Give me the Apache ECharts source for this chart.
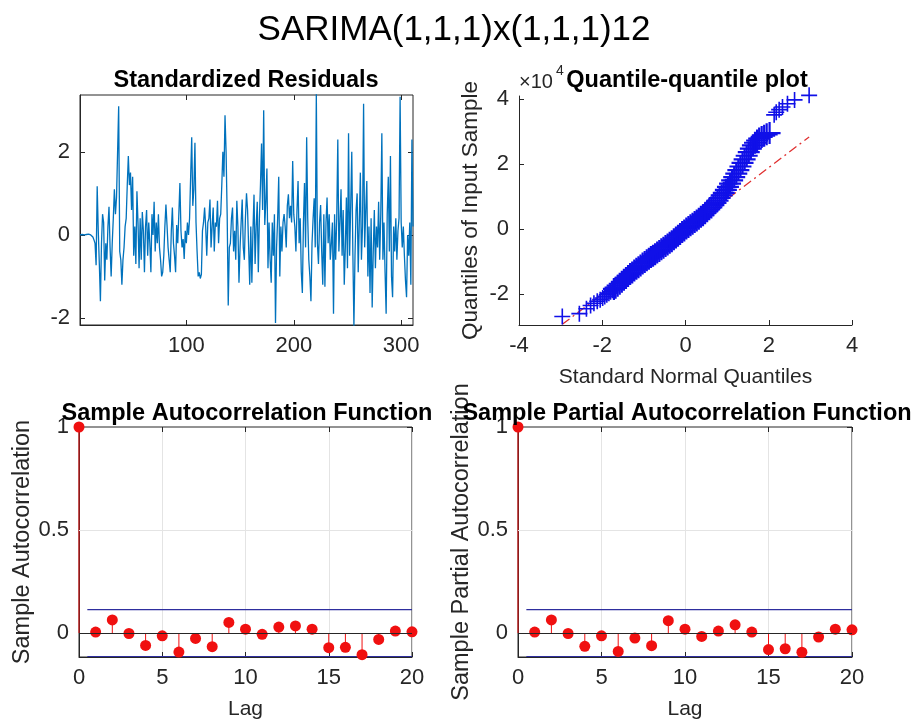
<!DOCTYPE html>
<html>
<head>
<meta charset="utf-8">
<script src="https://cdn.jsdelivr.net/npm/echarts@6/dist/echarts.min.js"></script>
<style>
  html, body { margin: 0; padding: 0; background: #fff; }
  #chart { width: 916px; height: 725px; }
</style>
</head>
<body>
<div id="chart"></div>
<script>
// standardized residuals, t = 1..311
const resid = [
  0.0, 0.02, 0.01, 0.03, 0.0, 0.02, 0.01, -0.01, 0.02, 0.01,
  0.0, 0.02, -0.05, -0.12, -0.2, -0.73, 1.17, 0.1, -0.7, -1.6,
  -0.2, 0.5, 0.3, -1.1, -0.2, -0.6, 0.2, 0.68, -0.3, -1.0,
  -0.2, 0.4, 1.1, 0.5, 0.9, 2.0, 3.1, -0.4, -0.6, -1.2,
  -0.6, -0.3, 0.2, 0.4, 1.2, 1.9, 1.2, 1.5, 0.6, 1.4,
  -0.5, 0.2, -0.7, 1.05, 0.3, -0.8, 0.4, -0.6, 0.55, 0.1,
  -0.9, 0.2, 0.6, -0.5, 0.3, -0.2, -0.9, 0.5, 0.0, 0.8,
  -0.4, 0.3, -0.2, 0.5, -0.3, -0.6, -1.0, -0.9, -0.5, 0.2,
  0.73, 0.24, -0.3, -0.6, -0.9, 0.1, 0.66, -0.2, -0.5, -0.9,
  0.24, -0.2, 0.5, 1.25, 0.1, -0.3, -0.1, -0.58, 0.1, -0.2,
  0.3, 0.0, 0.4, 1.4, 2.35, 0.7, 1.1, 2.22, 0.3, -0.4,
  -1.0, -0.9, -1.05, -0.95, 0.1, 0.3, 0.66, 0.2, -0.5, 0.3,
  0.4, 0.85, -0.3, 0.2, 0.66, -0.4, 0.3, 0.2, 0.82, -0.2,
  0.4, 0.5, 1.2, 2.0, 1.4, 2.88, 2.0, 0.5, -1.7, -0.3,
  -0.2, 0.4, 0.66, -0.4, 0.1, -0.6, 0.82, 0.2, -1.15, -0.3,
  0.3, 0.85, -0.3, -0.6, 0.4, 1.0, 0.6, -0.3, -1.2, 0.2,
  -1.15, 0.1, 0.97, -0.7, 0.2, 0.8, -0.9, 0.4, 1.2, 2.2,
  0.6, 3.0, 0.24, 0.8, 1.6, -0.8, 0.3, -0.6, -1.15, 0.3,
  -0.5, 0.5, -2.12, -0.3, 0.4, 1.4, -1.0, 0.2, -0.4, 0.3,
  0.5, 0.2, -0.3, 0.7, 0.98, 0.4, 0.7, 0.3, 1.78, 0.5,
  0.2, -0.4, 0.6, 1.3, -0.2, 0.4, -0.9, -1.4, 0.3, 1.25,
  -0.3, 2.35, 0.4, -0.6, -1.0, -1.6, -0.2, 0.4, 0.88, -0.3,
  3.4, -0.2, -0.7, 0.3, 0.72, -0.4, -1.2, 0.5, -1.25, 0.3,
  0.9, -0.2, 0.5, -0.6, -0.2, 0.3, -1.9, 0.5, -0.6, 0.4,
  2.3, -0.4, 0.3, 1.1, -0.5, 0.6, -1.2, -0.3, 0.9, -0.8,
  2.45, -0.5, 0.7, 2.0, -0.4, -2.2, -0.5, 0.6, 1.0, -0.9,
  0.3, 1.5, -0.6, 0.2, 3.16, -0.3, 0.6, 1.3, -1.0, 0.2,
  -1.4, 0.4, -1.75, -0.4, 0.6, -0.8, 0.2, -0.3, 0.8, -0.6,
  0.5, 2.45, -0.6, 0.3, -0.9, -1.9, 0.5, 1.4, -0.4, 1.9,
  -1.0, -1.5, 0.2, -0.4, 0.4, -0.6, 0.1, 0.4, 3.33, 0.3,
  -0.3, 0.2, -0.5, -1.1, -1.5, 0.0, -0.5, 0.3, -1.2, 2.3, 0.2
];

// quantile-quantile plot (x: normal quantiles, y: sample quantiles in 1e4)
const qqTheory = [
  -2.96, -2.55, -2.38, -2.28, -2.2, -2.12, -2.05, -1.99, -1.94, -1.89, -1.84, -1.8, -1.76, -1.72,
  -1.68, -1.63, -1.58, -1.53, -1.48, -1.43, -1.38, -1.33, -1.28, -1.23, -1.18, -1.13, -1.08, -1.03,
  -0.98, -0.93, -0.88, -0.83, -0.78, -0.73, -0.68, -0.63, -0.58, -0.53, -0.48, -0.43, -0.38, -0.33,
  -0.28, -0.23, -0.18, -0.13, -0.08, -0.03, 0.02, 0.07, 0.12, 0.17, 0.22, 0.27, 0.32, 0.37,
  0.42, 0.47, 0.52, 0.57, 0.62, 0.67, 0.72, 0.77, 0.82, 0.87, 0.92, 0.97, 1.02, 1.07,
  1.12, 1.17, 1.22, 1.27, 1.32, 1.37, 1.42, 1.47, 1.52, 1.57, 1.62, 1.67, 1.72, 1.77,
  1.83, 1.89, 1.95, 2.02, 2.13, 2.18, 2.25, 2.33, 2.45, 2.62, 2.97
];
const qqSample = [
  -2.69, -2.6, -2.45, -2.35, -2.28, -2.22, -2.17, -2.12, -2.07, -2.02, -1.97, -1.93, -1.88, -1.84,
  -1.8, -1.74, -1.68, -1.62, -1.56, -1.5, -1.44, -1.38, -1.33, -1.27, -1.22, -1.17, -1.12, -1.06,
  -1.01, -0.96, -0.91, -0.86, -0.82, -0.77, -0.72, -0.67, -0.62, -0.57, -0.52, -0.47, -0.42, -0.37,
  -0.31, -0.26, -0.2, -0.15, -0.09, -0.04, 0.02, 0.07, 0.12, 0.17, 0.22, 0.27, 0.32, 0.38,
  0.43, 0.49, 0.55, 0.61, 0.67, 0.74, 0.81, 0.88, 0.96, 1.04, 1.12, 1.21, 1.3, 1.4,
  1.5, 1.6, 1.71, 1.82, 1.93, 2.04, 2.15, 2.26, 2.37, 2.48, 2.58, 2.66, 2.73, 2.79,
  2.84, 2.88, 2.92, 2.96, 3.52, 3.6, 3.68, 3.76, 3.86, 3.98, 4.12
];
const qqLineX = [-2.96, 2.97];
const qqLineY = [-2.93, 2.84];

// sample ACF / PACF
const lags = [0, 1, 2, 3, 4, 5, 6, 7, 8, 9, 10, 11, 12, 13, 14, 15, 16, 17, 18, 19, 20];
const acf = [1, 0.005, 0.064, -0.002, -0.06, -0.013, -0.092, -0.026, -0.066, 0.052, 0.019,
  -0.006, 0.029, 0.035, 0.019, -0.071, -0.069, -0.105, -0.031, 0.01, 0.006];
const pacf = [1, 0.005, 0.064, -0.002, -0.064, -0.013, -0.089, -0.024, -0.061, 0.06, 0.019,
  -0.016, 0.01, 0.04, 0.005, -0.08, -0.076, -0.093, -0.019, 0.019, 0.016];
const confBound = 0.1136;

const resXTicks = [100, 200, 300];
const resYTicks = [-2, 0, 2];
const qqYTicks = [-2, 0, 2, 4];
const acfYTicks = [0, 0.5, 1];

const AXIS = '#262626';
const RED = '#f01010';
const FONT = '"Liberation Sans", Arial, sans-serif';
const PLUS = 'path://M0,7.2h16v1.6h-16zM7.2,0h1.6v16h-1.6z';

function axis(gridIndex, min, max, o = {}) {
  return {
    type: 'value', gridIndex, min, max,
    interval: o.interval,
    position: o.position,
    name: o.name,
    nameLocation: 'middle',
    nameGap: o.nameGap,
    nameTextStyle: { color: AXIS, fontSize: o.nameSize || 21, fontFamily: FONT },
    axisLine: { show: o.line !== false, onZero: false, lineStyle: { color: AXIS, width: 1 } },
    axisTick: { show: true, inside: true, length: 5, customValues: o.ticks, lineStyle: { color: AXIS } },
    axisLabel: {
      show: o.labels !== false, customValues: o.ticks,
      color: AXIS, fontSize: 22, fontFamily: FONT, margin: 10
    },
    splitLine: { show: !!o.grid, lineStyle: { color: '#e4e4e4', width: 1 } }
  };
}

// title component adds 5px padding, so x is the wanted centre minus 5
function subTitle(text, x, y) {
  return {
    text, left: x - 5, top: y, textAlign: 'center',
    textStyle: { color: '#000', fontSize: 23.5, fontWeight: 'bold', fontFamily: FONT }
  };
}

// stems + markers + bounds for ACF-type panels
function corrSeries(xi, yi, vals) {
  return [
    {
      type: 'line', xAxisIndex: xi, yAxisIndex: yi, z: 1,
      data: [[0.5, confBound], [20, confBound]],
      symbol: 'none', silent: true,
      lineStyle: { color: '#2e2e9e', width: 1.2 },
      markLine: {
        silent: true, symbol: 'none', label: { show: false },
        data: [
          { yAxis: 0.5, lineStyle: { color: '#e4e4e4', width: 1, type: 'solid' } },
          { yAxis: 0, lineStyle: { color: '#262626', width: 1, type: 'solid' } }
        ]
      }
    },
    {
      type: 'line', xAxisIndex: xi, yAxisIndex: yi, z: 1,
      data: [[0.5, -confBound], [20, -confBound]],
      symbol: 'none', silent: true,
      lineStyle: { color: '#2e2e9e', width: 1.2 }
    },
    {
      type: 'custom', xAxisIndex: xi, yAxisIndex: yi, z: 3,
      data: lags.map((l, i) => [l, vals[i]]),
      renderItem: (params, api) => {
        const p0 = api.coord([api.value(0), 0]);
        const p1 = api.coord([api.value(0), api.value(1)]);
        return {
          type: 'line',
          shape: { x1: p0[0], y1: p0[1], x2: p1[0], y2: p1[1] },
          style: { stroke: RED, lineWidth: 1 }
        };
      }
    },
    {
      type: 'scatter', xAxisIndex: xi, yAxisIndex: yi, z: 4,
      data: lags.map((l, i) => [l, vals[i]]),
      symbol: 'circle', symbolSize: 11,
      itemStyle: { color: RED, opacity: 1 }
    }
  ];
}

const chart = echarts.init(document.getElementById('chart'), null, { renderer: 'canvas' });

const option = {
  animation: false,
  backgroundColor: '#fff',
  title: [
    {
      text: 'SARIMA(1,1,1)x(1,1,1)12', left: 449, top: 8, textAlign: 'center',
      textStyle: { color: '#000', fontSize: 35, fontWeight: 'normal', fontFamily: FONT }
    },
    subTitle('Standardized Residuals', 246, 64),
    subTitle('Quantile-quantile plot', 687, 64),
    subTitle('Sample Autocorrelation Function', 247, 397),
    subTitle('Sample Partial Autocorrelation Function', 687, 397)
  ],
  graphic: [
    {
      type: 'text', left: 519, top: 72,
      style: { text: '\u00d710', fill: AXIS, font: '20px ' + FONT }
    },
    {
      type: 'text', left: 556, top: 64,
      style: { text: '4', fill: AXIS, font: '14px ' + FONT }
    }
  ],
  grid: [
    { left: 80, top: 95, width: 333, height: 230, show: true, borderColor: AXIS, borderWidth: 1 },
    { left: 519, top: 96, width: 333, height: 229 },
    { left: 79, top: 427, width: 333, height: 230, show: true, borderColor: AXIS, borderWidth: 1 },
    { left: 518, top: 427, width: 334, height: 230, show: true, borderColor: AXIS, borderWidth: 1 }
  ],
  xAxis: [
    axis(0, 1, 311, { ticks: resXTicks }),
    axis(0, 1, 311, { ticks: resXTicks, position: 'top', labels: false, line: false }),
    axis(1, -4, 4, { interval: 2, name: 'Standard Normal Quantiles', nameGap: 42 }),
    axis(2, 0, 20, { interval: 5, grid: true, name: 'Lag', nameGap: 42 }),
    axis(2, 0, 20, { interval: 5, position: 'top', labels: false, line: false }),
    axis(3, 0, 20, { interval: 5, grid: true, name: 'Lag', nameGap: 42 }),
    axis(3, 0, 20, { interval: 5, position: 'top', labels: false, line: false })
  ],
  yAxis: [
    axis(0, -2.17, 3.37, { ticks: resYTicks }),
    axis(0, -2.17, 3.37, { ticks: resYTicks, position: 'right', labels: false, line: false }),
    axis(1, -2.95, 4.1, { ticks: qqYTicks, name: 'Quantiles of Input Sample', nameGap: 37, nameSize: 22.5 }),
    axis(2, -0.116, 1, { ticks: acfYTicks, name: 'Sample Autocorrelation', nameGap: 43, nameSize: 23.5 }),
    axis(2, -0.116, 1, { ticks: acfYTicks, position: 'right', labels: false, line: false }),
    axis(3, -0.116, 1, { ticks: acfYTicks, name: 'Sample Partial Autocorrelation', nameGap: 43, nameSize: 23.5 }),
    axis(3, -0.116, 1, { ticks: acfYTicks, position: 'right', labels: false, line: false })
  ],
  series: [
    {
      type: 'line', xAxisIndex: 0, yAxisIndex: 0,
      data: resid.map((v, i) => [i + 1, v]),
      symbol: 'none', clip: true,
      lineStyle: { color: '#0072BD', width: 1.3 }
    },
    {
      type: 'line', xAxisIndex: 2, yAxisIndex: 2, z: 1,
      data: qqLineX.map((x, i) => [x, qqLineY[i]]),
      symbol: 'none',
      lineStyle: { color: '#e03030', width: 1.3, type: [9, 4, 2, 4] }
    },
    {
      type: 'scatter', xAxisIndex: 2, yAxisIndex: 2, z: 3,
      data: qqTheory.map((x, i) => [x, qqSample[i]]),
      symbol: PLUS,
      // the dense middle of the band reads as a thick solid stroke
      symbolSize: (v) => (v[0] > -1.75 && v[0] < 2.05 ? 22 : 16),
      clip: false,
      itemStyle: { color: '#1010e8', opacity: 1 }
    },
    ...corrSeries(3, 3, acf),
    ...corrSeries(5, 5, pacf)
  ]
};

chart.setOption(option);
</script>
</body>
</html>
